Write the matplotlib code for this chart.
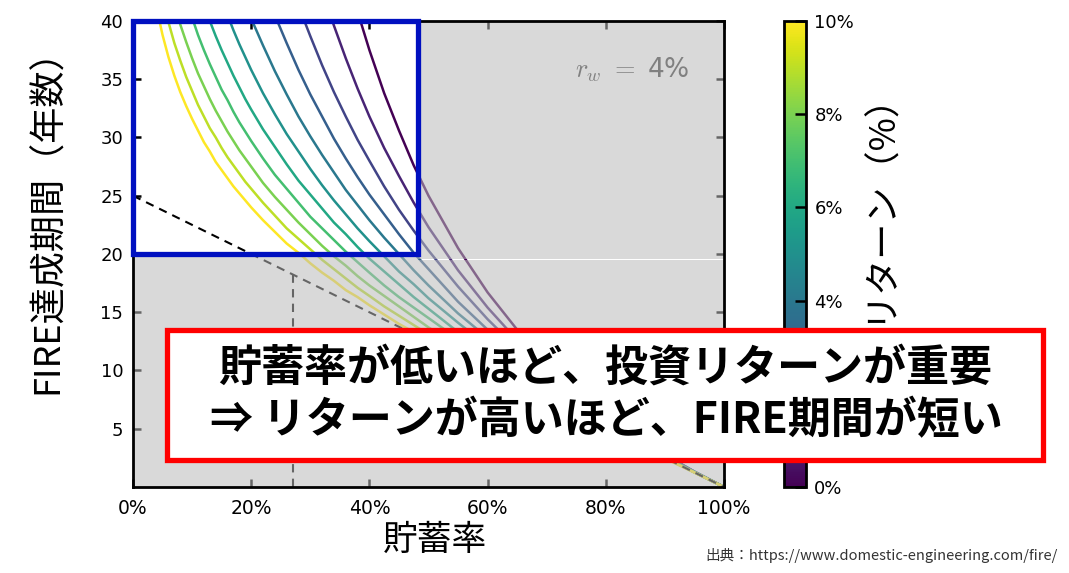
import numpy as np
import matplotlib
matplotlib.use("Agg")
import matplotlib.pyplot as plt
from matplotlib.patches import Rectangle

plt.rcParams['font.family'] = ['DejaVu Sans', 'Noto Sans CJK JP']
plt.rcParams['mathtext.fontset'] = 'cm'
jp = ['Noto Sans CJK JP', 'DejaVu Sans']

# savings rate (x) and years to FIRE per annual return
savings = [0.03, 0.04, 0.05, 0.06, 0.07, 0.08, 0.09, 0.10, 0.11, 0.12, 0.13, 0.14, 0.15, 0.16, 0.17, 0.18,
           0.19, 0.20, 0.22, 0.24, 0.26, 0.28, 0.30, 0.32, 0.34, 0.36, 0.38, 0.40, 0.425, 0.45, 0.475,
           0.50, 0.55, 0.60, 0.65, 0.70, 0.75, 0.80, 0.85, 0.90, 0.95, 1.00]
returns = [0, 1, 2, 3, 4, 5, 6, 7, 8, 9, 10]
years_r0 = [808.3, 600.0, 475.0, 391.7, 332.1, 287.5, 252.8, 225.0, 202.3, 183.3, 167.3, 153.6, 141.7, 131.3,
            122.1, 113.9, 106.6, 100.0, 88.6, 79.2, 71.2, 64.3, 58.3, 53.1, 48.5, 44.4, 40.8, 37.5, 33.8,
            30.6, 27.6, 25.0, 20.5, 16.7, 13.5, 10.7, 8.33, 6.25, 4.41, 2.78, 1.32, 0]
years_r1 = [220.6, 194.6, 174.9, 159.3, 146.4, 135.5, 126.1, 117.9, 110.6, 104.1, 98.3, 93.1, 88.2, 83.8,
            79.8, 76.0, 72.6, 69.3, 63.5, 58.3, 53.7, 49.6, 45.9, 42.6, 39.6, 36.8, 34.2, 31.8, 29.1,
            26.7, 24.4, 22.3, 18.6, 15.4, 12.6, 10.2, 8.0, 6.06, 4.32, 2.74, 1.31, 0]
years_r2 = [142.2, 128.2, 117.6, 108.9, 101.7, 95.5, 90.1, 85.2, 80.9, 77.0, 73.5, 70.2, 67.2, 64.4,
            61.8, 59.4, 57.1, 54.9, 51.0, 47.5, 44.3, 41.3, 38.7, 36.2, 33.9, 31.8, 29.8, 28.0, 25.8,
            23.8, 22.0, 20.3, 17.2, 14.4, 11.9, 9.71, 7.71, 5.89, 4.23, 2.70, 1.30, 0]
years_r3 = [107.6, 98.1, 90.8, 84.9, 79.8, 75.5, 71.7, 68.3, 65.2, 62.4, 59.8, 57.5, 55.3, 53.2,
            51.3, 49.5, 47.8, 46.2, 43.2, 40.5, 38.1, 35.8, 33.7, 31.8, 29.9, 28.2, 26.6, 25.1, 23.4,
            21.7, 20.1, 18.7, 15.9, 13.5, 11.3, 9.29, 7.44, 5.73, 4.14, 2.67, 1.29, 0]
years_r4 = [87.7, 80.5, 74.9, 70.3, 66.5, 63.1, 60.2, 57.6, 55.2, 53.0, 51.0, 49.2, 47.4, 45.8,
            44.3, 42.9, 41.5, 40.2, 37.9, 35.7, 33.7, 31.8, 30.1, 28.5, 27.0, 25.5, 24.2, 22.9, 21.4,
            20.0, 18.6, 17.3, 14.9, 12.8, 10.8, 8.92, 7.19, 5.58, 4.06, 2.63, 1.28, 0]
years_r5 = [74.5, 68.7, 64.2, 60.5, 57.4, 54.7, 52.3, 50.1, 48.2, 46.4, 44.7, 43.2, 41.8, 40.5,
            39.2, 38.0, 36.9, 35.8, 33.8, 32.0, 30.3, 28.8, 27.3, 25.9, 24.6, 23.4, 22.2, 21.1, 19.8,
            18.5, 17.4, 16.2, 14.1, 12.1, 10.3, 8.58, 6.97, 5.44, 3.99, 2.60, 1.27, 0]
years_r6 = [65.0, 60.2, 56.4, 53.3, 50.7, 48.4, 46.4, 44.6, 42.9, 41.4, 40.0, 38.7, 37.5, 36.4,
            35.3, 34.3, 33.3, 32.4, 30.7, 29.2, 27.7, 26.3, 25.1, 23.9, 22.7, 21.7, 20.6, 19.6, 18.5,
            17.4, 16.3, 15.3, 13.3, 11.6, 9.87, 8.27, 6.76, 5.31, 3.91, 2.57, 1.27, 0]
years_r7 = [57.9, 53.7, 50.5, 47.8, 45.5, 43.6, 41.8, 40.3, 38.8, 37.5, 36.3, 35.2, 34.1, 33.2,
            32.2, 31.3, 30.5, 29.7, 28.2, 26.8, 25.6, 24.4, 23.2, 22.2, 21.2, 20.2, 19.3, 18.4, 17.3,
            16.3, 15.4, 14.5, 12.7, 11.0, 9.48, 7.99, 6.56, 5.18, 3.84, 2.54, 1.26, 0]
years_r8 = [52.3, 48.6, 45.8, 43.5, 41.5, 39.7, 38.2, 36.8, 35.5, 34.4, 33.3, 32.3, 31.4, 30.5,
            29.7, 28.9, 28.2, 27.5, 26.1, 24.9, 23.8, 22.7, 21.7, 20.7, 19.8, 19.0, 18.1, 17.3, 16.4,
            15.5, 14.6, 13.7, 12.1, 10.6, 9.14, 7.74, 6.39, 5.07, 3.78, 2.51, 1.25, 0]
years_r9 = [47.8, 44.5, 42.0, 39.9, 38.1, 36.6, 35.2, 34.0, 32.8, 31.8, 30.8, 30.0, 29.1, 28.3,
            27.6, 26.9, 26.2, 25.6, 24.4, 23.3, 22.2, 21.3, 20.4, 19.5, 18.7, 17.9, 17.1, 16.4, 15.5,
            14.7, 13.9, 13.1, 11.6, 10.2, 8.82, 7.50, 6.22, 4.96, 3.72, 2.48, 1.24, 0]
years_r10 = [44.0, 41.1, 38.8, 36.9, 35.3, 33.9, 32.7, 31.6, 30.6, 29.6, 28.8, 27.9, 27.2, 26.5,
             25.8, 25.2, 24.6, 24.0, 22.9, 21.9, 20.9, 20.1, 19.2, 18.4, 17.7, 16.9, 16.3, 15.6, 14.8,
             14.0, 13.3, 12.5, 11.1, 9.81, 8.53, 7.28, 6.06, 4.86, 3.66, 2.45, 1.24, 0]
all_years = [years_r0, years_r1, years_r2, years_r3, years_r4, years_r5,
             years_r6, years_r7, years_r8, years_r9, years_r10]

# dashed guide lines
guide_x = [0.0, 1.0]
guide_y = [25.0, 0.0]
marker_x = 0.27
marker_y = 18.25

xticks = [0, 0.2, 0.4, 0.6, 0.8, 1.0]
xticklabels = ['0%', '20%', '40%', '60%', '80%', '100%']
yticks = [5, 10, 15, 20, 25, 30, 35, 40]
cbar_ticks = [0, 2, 4, 6, 8, 10]
cbar_labels = ['0%', '2%', '4%', '6%', '8%', '10%']

fig = plt.figure(figsize=(10.69, 5.73), dpi=100)
ax = fig.add_axes([0.1244, 0.1501, 0.5529, 0.8133])
cax = fig.add_axes([0.7334, 0.1501, 0.0206, 0.8133])

cmap = plt.get_cmap('viridis')
for r, yrs in zip(returns, all_years):
    ax.plot(savings, yrs, color=cmap(r / 10), lw=1.8, zorder=2)

ax.plot(guide_x, guide_y, color='black', ls=(0, (4, 3)), lw=1.5, zorder=2)
ax.plot([marker_x, marker_x], [0, marker_y], color='black', ls=(0, (4, 3)), lw=1.5, zorder=2)

ax.set_xlim(0, 1)
ax.set_ylim(0, 40)
ax.set_xticks(xticks)
ax.set_xticklabels(xticklabels)
ax.set_yticks(yticks)
ax.tick_params(direction='in', length=6, width=1.8, top=True, right=True, labelsize=13, pad=7)
ax.tick_params(axis='x', labelsize=13.5, pad=9)
for sp in ax.spines.values():
    sp.set_linewidth(2)
    sp.set_zorder(3)

# gray overlay everywhere except the highlighted box
box_w = 0.483
ov = dict(facecolor='#bababa', alpha=0.55, edgecolor='none', zorder=2.3)
ax.add_patch(Rectangle((box_w, 19.55), 1 - box_w, 20.45, **ov))
ax.add_patch(Rectangle((0, 0), 1, 19.45, **ov))
ax.add_patch(Rectangle((0, 19.45), box_w, 0.55, **ov))

ax.add_patch(Rectangle((0, 20), box_w, 20, facecolor='none', edgecolor='#0010c0',
                       lw=3.8, zorder=4, clip_on=False))

ax.text(0.748, 35.8, r'$r_w\ =\ $4%', fontsize=19, color='#808080', va='center', zorder=3)

ax.set_xlabel('貯蓄率', family=jp, fontsize=25)
ax.xaxis.set_label_coords(0.511, -0.078)
ax.set_ylabel('FIRE達成期間（年数）', family=jp, fontsize=26)
ax.yaxis.set_label_coords(-0.113, 0.59)

sm = plt.cm.ScalarMappable(cmap=cmap, norm=plt.Normalize(0, 10))
cb = fig.colorbar(sm, cax=cax, ticks=cbar_ticks)
cb.ax.set_yticklabels(cbar_labels)
cb.ax.tick_params(direction='in', length=8, width=1.8, labelsize=13, pad=6)
cb.outline.set_linewidth(2)
cb.set_label('リターン（%）', family=jp, fontsize=26)
cb.ax.yaxis.set_label_coords(3.5, 0.62)

# callout
fig.add_artist(Rectangle((0.1562, 0.1972), 0.8195, 0.2269, transform=fig.transFigure,
                         facecolor='white', edgecolor='#ff0000', lw=3.8, zorder=10))
fig.text(0.566, 0.358, '貯蓄率が低いほど、投資リターンが重要', family=jp, fontsize=31,
         weight='bold', ha='center', va='center', zorder=11)
fig.text(0.567, 0.266, '⇒ リターンが高いほど、FIRE期間が短い', family=jp, fontsize=31,
         weight='bold', ha='center', va='center', zorder=11)

fig.text(0.989, 0.031, '出典：https://www.domestic-engineering.com/fire/', family=jp,
         fontsize=10.5, color='#333333', ha='right', va='center')

fig.savefig('out.png', dpi=100)
